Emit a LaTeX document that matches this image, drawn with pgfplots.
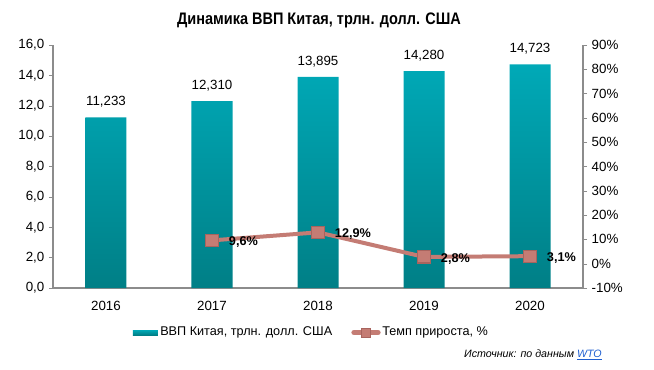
\documentclass[border=0pt]{standalone}
\usepackage{pgfplots}
\pgfplotsset{compat=1.18}
\usepackage{fontspec}
\setmainfont{Liberation Sans}
\newfontfamily\titlefont[FakeStretch=0.87]{Liberation Sans}
\definecolor{bartop}{HTML}{00A9B7}
\definecolor{barbot}{HTML}{007F86}
\definecolor{linec}{HTML}{C47C74}
\definecolor{markb}{HTML}{A8645E}
\definecolor{axc}{HTML}{8C8C8C}
\definecolor{wto}{HTML}{1F5FD0}
\begin{document}
\begin{tikzpicture}[x=0.75pt,y=0.75pt]
\path[use as bounding box] (-53,-81) rectangle (601,288);
\begin{axis}[
  at={(0,0)}, anchor=south west,
  scale only axis, width=397.5pt, height=182.25pt,
  xmin=-0.5, xmax=4.5, ymin=0, ymax=16,
  ytick={0,2,...,16},
  yticklabel={\pgfmathprintnumber[fixed,fixed zerofill,precision=1,use comma]{\tick}},
  /pgf/number format/assume math mode=true,
  xtick={0,1,2,3,4}, xticklabels={2016,2017,2018,2019,2020},
  extra x ticks={0.5,1.5,2.5,3.5}, extra x tick labels={},
  extra x tick style={major tick length=4pt, tick style={axc}, tick pos=left},
  axis x line*=bottom, axis y line*=left,
  axis line style={axc, line width=0.8pt},
  xtick style={draw=none},
  ytick style={axc}, major tick length=3pt,
  tick align=outside,
  ticklabel style={font=\fontsize{10}{12}\selectfont, text=black},
  xticklabel style={yshift=-3pt},
  ybar, bar width=30.75pt,
  nodes near coords={\pgfmathprintnumber[fixed,fixed zerofill,precision=3,use comma]{\pgfplotspointmeta}},
  nodes near coords style={font=\fontsize{10}{12}\selectfont, text=black, yshift=4pt},
  clip=false,
]
\addplot[draw=none, top color=bartop, bottom color=barbot] coordinates {(0,11.233) (1,12.310) (2,13.895) (3,14.280) (4,14.723)};
\end{axis}
\begin{axis}[
  at={(0,0)}, anchor=south west,
  scale only axis, width=397.5pt, height=182.25pt,
  xmin=-0.5, xmax=4.5, ymin=-10, ymax=90,
  ytick={-10,0,...,90},
  yticklabel={\pgfmathprintnumber{\tick}\%},
  /pgf/number format/assume math mode=true,
  axis x line=none, axis y line*=right,
  axis line style={axc, line width=0.8pt},
  ytick style={axc}, major tick length=3pt, tick align=outside,
  ticklabel style={font=\fontsize{10}{12}\selectfont, text=black},
  clip=false,
]
\addplot[linec, line width=3pt, mark=square*, mark size=4.6pt,
  mark options={fill=linec, draw=markb, line width=0.8pt},
  nodes near coords={\pgfmathprintnumber[fixed,fixed zerofill,precision=1,use comma]{\pgfplotspointmeta}\%},
  nodes near coords style={font=\bfseries\fontsize{9.5}{11}\selectfont, text=black, anchor=west, xshift=9pt, yshift=-1.5pt}]
  coordinates {(1,9.6) (2,12.9) (3,2.8) (4,3.1)};
\end{axis}
\node[font=\titlefont\bfseries\fontsize{12.5}{14}\selectfont] at (266,268) {Динамика ВВП Китая, трлн. долл. США};
% legend
\fill[top color=bartop, bottom color=barbot] (80,-47) rectangle (105,-42);
\node[anchor=west, font=\fontsize{9.5}{11}\selectfont, inner sep=0pt] at (107,-44.5) {ВВП Китая, трлн. долл. США};
\draw[linec, line width=4pt, line cap=round] (301,-44.5) -- (325,-44.5);
\filldraw[fill=linec, draw=markb, line width=0.6pt] (308.5,-49) rectangle (317.5,-40);
\node[anchor=west, font=\fontsize{9.5}{11}\selectfont, inner sep=0pt] at (329,-44.5) {Темп прироста, \%};
\node[anchor=east, font=\itshape\fontsize{8}{10}\selectfont, inner sep=0pt] at (549,-67) {Источник: по данным \textcolor{wto}{\underline{WTO}}};
\end{tikzpicture}
\end{document}
